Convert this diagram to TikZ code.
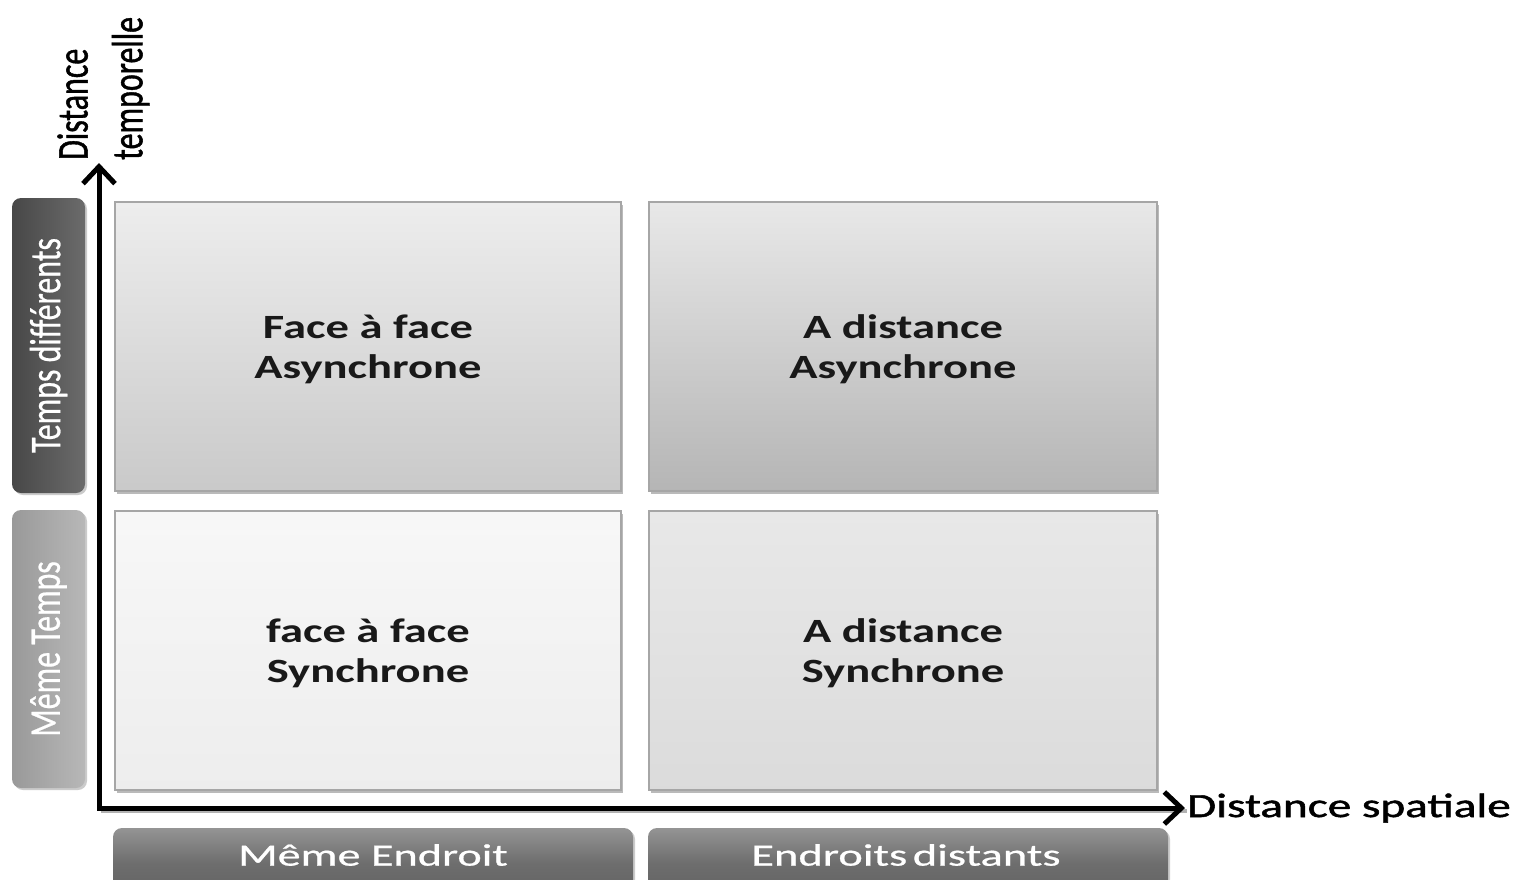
\documentclass[tikz,border=0pt]{standalone}
\usepackage{fontspec}
\setmainfont{Carlito}
\newfontfamily\axisfont[FakeBold=1.2]{Carlito}
\newfontfamily\lblfont[FakeBold=0.6]{Carlito}
\usetikzlibrary{arrows.meta,shadows}
\newcommand{\wideh}[2]{\scalebox{#1}[1]{#2}}
\newcommand{\tallv}[2]{\scalebox{1}[#1]{#2}}
\tikzset{
  quad/.style={rectangle, draw=black!35, line width=1.2pt, inner sep=0pt,
    drop shadow={shadow xshift=2pt, shadow yshift=-3pt, fill=black!45, opacity=.6},
    font=\fontsize{34}{40}\selectfont\bfseries, text=black!90, align=center},
  sidebox/.style={rectangle, rounded corners=9pt, inner sep=0pt, draw=none,
    drop shadow={shadow xshift=2pt, shadow yshift=-2pt, fill=black!40, opacity=.5},
    text=white, font=\fontsize{32}{38}\selectfont},
  axis/.style={line width=5pt, black, line join=miter,
    {Straight Barb[length=17pt,width=32pt,line width=5pt]}-{Straight Barb[length=17pt,width=32pt,line width=5pt]}},
  axlabel/.style={inner sep=0pt, text=black, font=\fontsize{34}{40}\axisfont}
}
\begin{document}
\begin{tikzpicture}[x=1pt,y=-1pt]
\useasboundingbox (0,0) rectangle (1527,879);
\clip (0,0) rectangle (1527,879);
\fill[white] (0,0) rectangle (1527,879);

% quadrants
\node[quad, minimum width=506pt, minimum height=289pt, top color=black!7, bottom color=black!21] (tl) at (368,346.5) {};
\node[font=\fontsize{34}{40}\selectfont\bfseries, text=black!90, align=center, inner sep=0pt] (tlt) at (368,349.5)
  {\wideh{1.37}{Face à face}\\\wideh{1.37}{Asynchrone}};
\node[quad, minimum width=508pt, minimum height=289pt, top color=black!9, bottom color=black!29] (tr) at (903,346.5) {};
\node[font=\fontsize{34}{40}\selectfont\bfseries, text=black!90, align=center, inner sep=0pt] (trt) at (903,349.5)
  {\wideh{1.37}{A distance}\\\wideh{1.37}{Asynchrone}};
\node[quad, minimum width=506pt, minimum height=279pt, top color=black!3, bottom color=black!7] (bl) at (368,650.5) {};
\node[font=\fontsize{34}{40}\selectfont\bfseries, text=black!90, align=center, inner sep=0pt] (blt) at (368,653.5)
  {\wideh{1.37}{face à face}\\\wideh{1.37}{Synchrone}};
\node[quad, minimum width=508pt, minimum height=279pt, top color=black!9, bottom color=black!14] (br) at (903,650.5) {};
\node[font=\fontsize{34}{40}\selectfont\bfseries, text=black!90, align=center, inner sep=0pt] (brt) at (903,653.5)
  {\wideh{1.37}{A distance}\\\wideh{1.37}{Synchrone}};

% left side labels
\node[sidebox, minimum width=73pt, minimum height=295pt, left color=black!72, right color=black!58] (td) at (48.5,345.5) {};
\node[rotate=90, text=white, font=\fontsize{32}{38}\lblfont, inner sep=0pt] (tdl) at (td.center) {\tallv{1.37}{Temps différents}};
\node[sidebox, minimum width=73pt, minimum height=278pt, left color=black!40, right color=black!28] (mt) at (48.5,649) {};
\node[rotate=90, text=white, font=\fontsize{32}{38}\lblfont, inner sep=0pt] (mtl) at (mt.center) {\tallv{1.37}{Même Temps}};

% bottom labels
\node[sidebox, minimum width=520pt, minimum height=70pt, top color=black!42, bottom color=black!62, middle color=black!57] (me) at (373,863) {};
\node[text=white, font=\fontsize{31}{36}\lblfont, inner sep=0pt] (mel) at (373,855) {\wideh{1.49}{Même Endroit}};
\node[sidebox, minimum width=520pt, minimum height=70pt, top color=black!42, bottom color=black!62, middle color=black!57] (ed) at (908,863) {};
\node[text=white, font=\fontsize{31}{36}\lblfont, inner sep=0pt] (edl) at (906,855) {\wideh{1.5}{Endroits\hspace{0.12em}distants}};

% axes
\coordinate (O) at (99,808);
\coordinate (ytip) at (99,163);
\coordinate (xtip) at (1185,808);
\draw[line width=4pt, black!30] ([shift={(2,3)}]O) -- ([shift={(2,3)}]xtip);
\draw[axis] (ytip) -- (O) -- (xtip);

\node[axlabel, anchor=west] (xl) at (1187,808) {\wideh{1.39}{Distance spatiale}};
\node[axlabel, rotate=90, anchor=west, font=\fontsize{32}{40}\axisfont] (yl) at (104,160)
  {\tallv{1.37}{\begin{tabular}{@{}l@{}}Distance\\temporelle\end{tabular}}};
\end{tikzpicture}
\end{document}
